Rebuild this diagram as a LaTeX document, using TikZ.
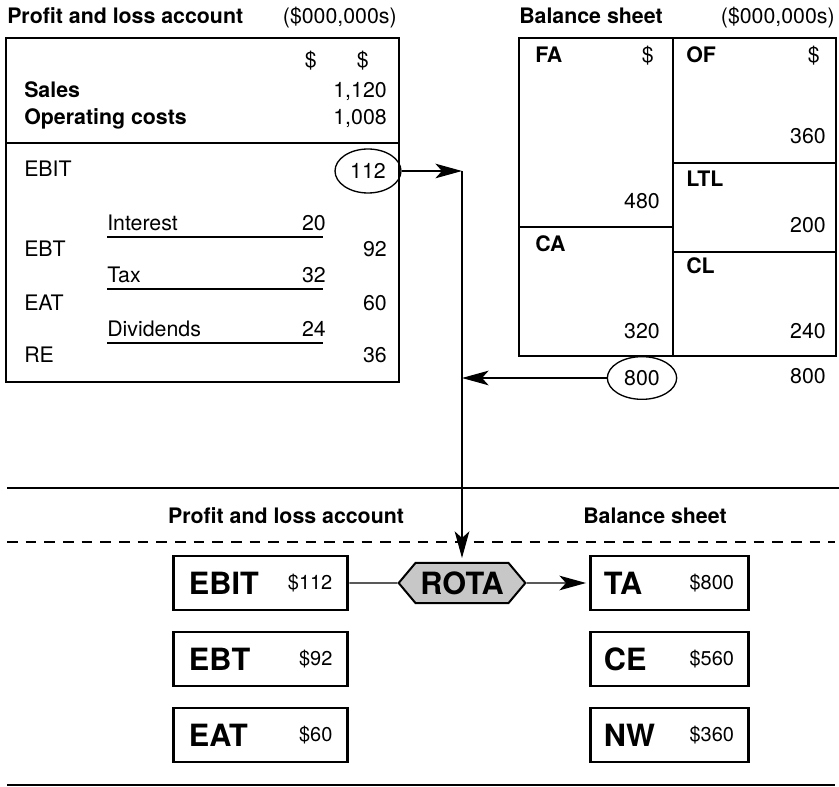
\documentclass[tikz,border=0pt]{standalone}
\usepackage{fontspec}
\setmainfont{TeX Gyre Heros}
\usetikzlibrary{arrows.meta,positioning,calc,shapes.geometric,shapes.symbols}
\tikzset{
  txt/.style={inner sep=0pt, font=\fontsize{16}{18}\selectfont},
  hd/.style={inner sep=0pt, font=\fontsize{16}{18}\selectfont\bfseries},
  num/.style={anchor=base east},
  lab/.style={anchor=base west},
  panel/.style={line width=1.5pt},
  rule/.style={line width=1pt},
  sep/.style={line width=1.5pt},
  cut/.style={dash pattern=on 8pt off 6pt, line width=1pt},
  oval/.style={draw, ellipse, line width=1pt, inner sep=0pt, font=\fontsize{16}{18}\selectfont},
  arr/.style={-{Stealth[length=20pt, width=11pt, inset=5pt]}, line width=0.9pt},
  link/.style={line width=0.9pt},
  kbox/.style={draw, line width=2.2pt, minimum height=40.5pt},
  big/.style={inner sep=0pt, font=\fontsize{23}{23}\selectfont\bfseries},
  small/.style={inner sep=0pt, font=\fontsize{15}{15}\selectfont},
  ratio/.style={draw, signal, signal to=west and east, signal pointer angle=100,
    line width=1.5pt, fill=black!22, minimum width=95pt, minimum height=30pt,
    inner sep=2pt, font=\fontsize{23}{23}\selectfont\bfseries}}
\begin{document}
\begin{tikzpicture}[x=0.75pt, y=-0.75pt]
  \useasboundingbox (0,0) rectangle (839,787);
  % profit and loss account
  \node[hd, lab] (plt) at (7,24) {Profit and loss account};
  \node[txt, num] (plu) at (397,24) {(\$000,000s)};
  \draw[panel] (6,38) rectangle (399,382);
  \draw[panel] (6,143) -- (399,143);
  \node[txt, num] (pd1) at (317,68) {\$};
  \node[txt, num] (pd2) at (369,68) {\$};
  \node[hd, lab] (sal) at (24,98) {Sales};
  \node[txt, num] (salv) at (387,98) {1,120};
  \node[hd, lab] (opc) at (24,125) {Operating costs};
  \node[txt, num] (opcv) at (387,125) {1,008};
  \node[txt, lab] (rowEBIT) at (24,177) {EBIT};
  \node[oval, minimum width=49.5pt, minimum height=33pt] (e112) at (368,171) {112};
  \foreach \y/\l/\v in {257/EBT/92, 311/EAT/60, 363/RE/36} {
    \node[txt, lab] (row\l) at (24,\y) {\l};
    \node[txt, num] (val\l) at (387,\y) {\v};
  }
  \foreach \y/\l/\v in {231/Interest/20, 283/Tax/32, 337/Dividends/24} {
    \node[txt, lab] (sub\l) at (107,\y) {\l};
    \node[txt, num] (amt\l) at (326,\y) {\v};
    \draw[rule] (107,\y+6) -- (323,\y+6);
  }
  % balance sheet
  \node[hd, lab] (bst) at (519,24) {Balance sheet};
  \node[txt, num] (bsu) at (835,24) {(\$000,000s)};
  \draw[panel] (519,38) rectangle (836,356);
  \draw[panel] (673,38) -- (673,356);
  \draw[panel] (519,227) -- (673,227);
  \draw[panel] (673,163) -- (836,163) (673,252) -- (836,252);
  \node[hd, lab] (fa) at (535,63) {FA};
  \node[txt, num] (fad) at (654,63) {\$};
  \node[hd, lab] (of) at (686,63) {OF};
  \node[txt, num] (ofd) at (820,63) {\$};
  \node[txt, num] (ofv) at (826,144) {360};
  \node[txt, num] (fav) at (660,209) {480};
  \node[hd, lab] (ltl) at (686,187) {LTL};
  \node[txt, num] (ltlv) at (826,233) {200};
  \node[hd, lab] (ca) at (535,252) {CA};
  \node[hd, lab] (cl) at (686,274) {CL};
  \node[txt, num] (cav) at (660,339) {320};
  \node[txt, num] (clv) at (826,339) {240};
  \node[txt, num] (tot) at (826,384) {800};
  \node[oval, minimum width=52pt, minimum height=32pt] (e800) at (642,378) {800};
  % links to the ratio
  \coordinate (jn) at (462,171);
  \draw[arr] (e112) -- (jn);
  \draw[arr] (e800) -- (e800 -| jn);
  % ratio panel
  \draw[sep] (7,488) -- (839,488);
  \node[hd] (plh) at (286,516) {Profit and loss account};
  \node[hd] (bsh) at (655,516) {Balance sheet};
  \draw[cut] (7,542) -- (835,542);
  \node[ratio] (rota) at (462,583) {ROTA};
  \draw[arr, shorten >=3pt] (jn) -- (rota.north);
  \foreach \n/\v/\y in {EBIT/112/583, EBT/92/659, EAT/60/735} {
    \node[kbox, minimum width=131pt] (b\n) at (260.5,\y) {};
    \node[big, anchor=west] (k\n) at ([xshift=12.75pt]b\n.west) {\n};
    \node[small, anchor=east] (v\n) at ([xshift=-12.5pt]b\n.east) {\$\v};
  }
  \foreach \n/\v/\y in {TA/800/583, CE/560/659, NW/360/735} {
    \node[kbox, minimum width=119pt] (b\n) at (669.5,\y) {};
    \node[big, anchor=west] (k\n) at ([xshift=11.25pt]b\n.west) {\n};
    \node[small, anchor=east] (v\n) at ([xshift=-12pt]b\n.east) {\$\v};
  }
  \draw[link] (bEBIT) -- (rota);
  \draw[arr, shorten >=2pt] (rota) -- (bTA);
  \draw[sep] (7,785) -- (835,785);
\end{tikzpicture}
\end{document}
